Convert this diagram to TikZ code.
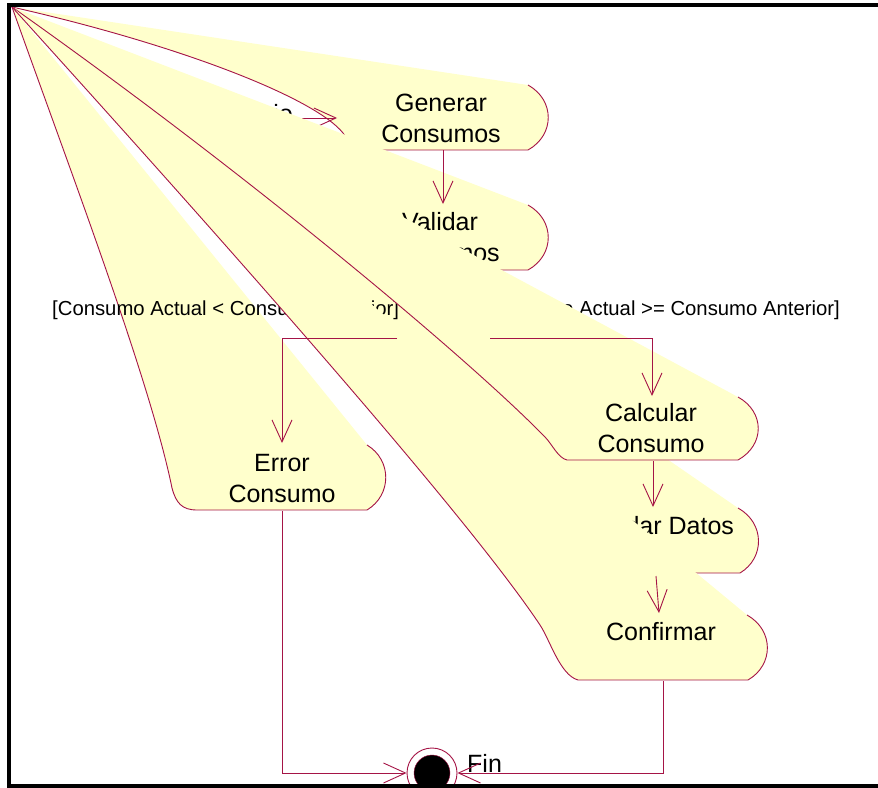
\documentclass[tikz,border=0pt]{standalone}
\usepackage{fontspec}
\setmainfont{Liberation Sans}
\usepackage{tikz}
\definecolor{rosered}{RGB}{165,20,70}
\definecolor{roseyellow}{RGB}{255,255,204}
\usetikzlibrary{arrows.meta}

\begin{document}
\begin{tikzpicture}[x=1pt,y=-1pt]
  \tikzstyle{fanfill}=[fill=roseyellow]
  \tikzstyle{fanline}=[draw=rosered,line width=0.9pt]
  \tikzstyle{statetext}=[inner sep=0pt,anchor=base,align=center,font=\fontsize{25}{31}\selectfont]
  \tikzstyle{guardtext}=[inner sep=0pt,font=\fontsize{20.3}{24}\selectfont]
  \tikzstyle{flow}=[draw=rosered,line width=0.9pt]

  \useasboundingbox (0,0) rectangle (878,787);
  \coordinate (o) at (12,7);

  % Generar Consumos
  \fill[fanfill] (o) -- (528,85) .. controls (555,100) and (555,135) .. (528,150) -- (383,150) .. controls (362,150) and (352,147) .. (343,133) .. controls (315,98) and (180,45) .. (o) -- cycle;
  \draw[fanline] (o) .. controls (180,45) and (315,98) .. (343,133) .. controls (352,147) and (362,150) .. (383,150) -- (528,150) .. controls (555,135) and (555,100) .. (528,85);
  \node[statetext] (gen) at (441,142) {Generar\\Consumos};
  \coordinate (ini) at (270,118);
  \coordinate (genW) at (337,118);
  \coordinate (genS) at (443,150);
  \draw[flow,-{Straight Barb[length=22pt,width=20pt]}] (ini) -- (genW);
  \node[statetext,anchor=base east] (inicio) at (293,122) {Inicio};
  \draw[fanline] (51,64) -- (54,66);

  % Validar Consumos
  \fill[fanfill] (o) -- (528,205) .. controls (555,220) and (555,255) .. (528,270) -- (380,270) -- cycle;
  \draw[fanline] (380,270) -- (528,270) .. controls (555,255) and (555,220) .. (528,205);
  \node[statetext] (val) at (440,261) {Validar\\Consumos};
  \coordinate (valN) at (443,204);

  % Error Consumo
  \fill[fanfill] (o) -- (367,445) .. controls (392,460) and (392,495) .. (367,510) -- (197,510) .. controls (182,510) and (176,503) .. (172,488) .. controls (150,380) and (70,170) .. (o) -- cycle;
  \draw[fanline] (o) .. controls (70,170) and (150,380) .. (172,488) .. controls (176,503) and (182,510) .. (197,510) -- (367,510) .. controls (392,495) and (392,460) .. (367,445);
  \node[statetext] (err) at (282,502) {Error\\Consumo};
  \coordinate (errN) at (282,443);
  \coordinate (errS) at (282,511);

  % Guardar Datos
  \fill[fanfill] (o) -- (738,508) .. controls (765,523) and (765,558) .. (740,573) -- (580,573) -- cycle;
  \draw[fanline] (580,573) -- (740,573) .. controls (765,558) and (765,523) .. (738,508);
  \node[statetext] (gua) at (652,534) {Guardar Datos};
  \coordinate (guaN) at (653,507);
  \coordinate (guaS) at (656,576);

  % guards
  \node[guardtext,anchor=base west] (menor) at (52,315) {[Consumo Actual < Consumo Anterior]};
  \node[guardtext,anchor=base east] (mayor) at (840,315) {[Consumo Actual >= Consumo Anterior]};

  % Calcular Consumo
  \fill[fanfill] (o) -- (738,397) .. controls (765,412) and (765,445) .. (738,460) -- (567,460) .. controls (558,458) and (552,444) .. (545,437) .. controls (470,360) and (250,175) .. (o) -- cycle;
  \draw[fanline] (o) .. controls (250,175) and (470,360) .. (545,437) .. controls (552,444) and (558,458) .. (567,460) -- (738,460) .. controls (765,445) and (765,412) .. (738,397);
  \node[statetext] (cal) at (651,452) {Calcular\\Consumo};
  \coordinate (calN) at (652,396);
  \coordinate (calS) at (653,461);

  % Confirmar
  \fill[fanfill] (o) -- (747,615) .. controls (774,630) and (774,665) .. (748,680) -- (578,680) .. controls (560,675) and (550,640) .. (540,625) .. controls (470,520) and (250,270) .. (o) -- cycle;
  \draw[fanline] (o) .. controls (250,270) and (470,520) .. (540,625) .. controls (550,640) and (560,675) .. (578,680) -- (748,680) .. controls (774,665) and (774,630) .. (747,615);
  \node[statetext] (con) at (661,640) {Confirmar};
  \coordinate (conN) at (659,613);
  \coordinate (conS) at (663,681);

  % decision branches
  \coordinate (decL) at (397,338);
  \coordinate (decR) at (490,338);

  % Fin
  \node[circle,draw=rosered,line width=0.9pt,fill=white,minimum size=50pt,inner sep=0pt] (fin) at (432,773) {};
  \node[circle,draw=rosered,fill=black,minimum size=36pt,inner sep=0pt] (fincore) at (fin) {};
  \node[statetext,anchor=base west] (finlabel) at (467,772) {Fin};

  \draw[flow,-{Straight Barb[length=22pt,width=20pt]}] (genS) -- (valN);
  \draw[flow,-{Straight Barb[length=22pt,width=20pt]}] (decL) -| (errN);
  \draw[flow,-{Straight Barb[length=22pt,width=20pt]}] (decR) -| (calN);
  \draw[flow,-{Straight Barb[length=22pt,width=20pt]}] (calS) -- (guaN);
  \draw[flow,-{Straight Barb[length=22pt,width=20pt]}] (guaS) -- (conN);
  \draw[flow,-{Straight Barb[length=22pt,width=20pt]}] (errS) |- (fin.west);
  \draw[flow,-{Straight Barb[length=22pt,width=20pt]}] (conS) |- (fin.east);

  % frame
  \draw[line width=4pt] (9,790) -- (9,5) -- (880,5);
  \draw[line width=4pt] (9,786) -- (880,786);
\end{tikzpicture}
\end{document}
